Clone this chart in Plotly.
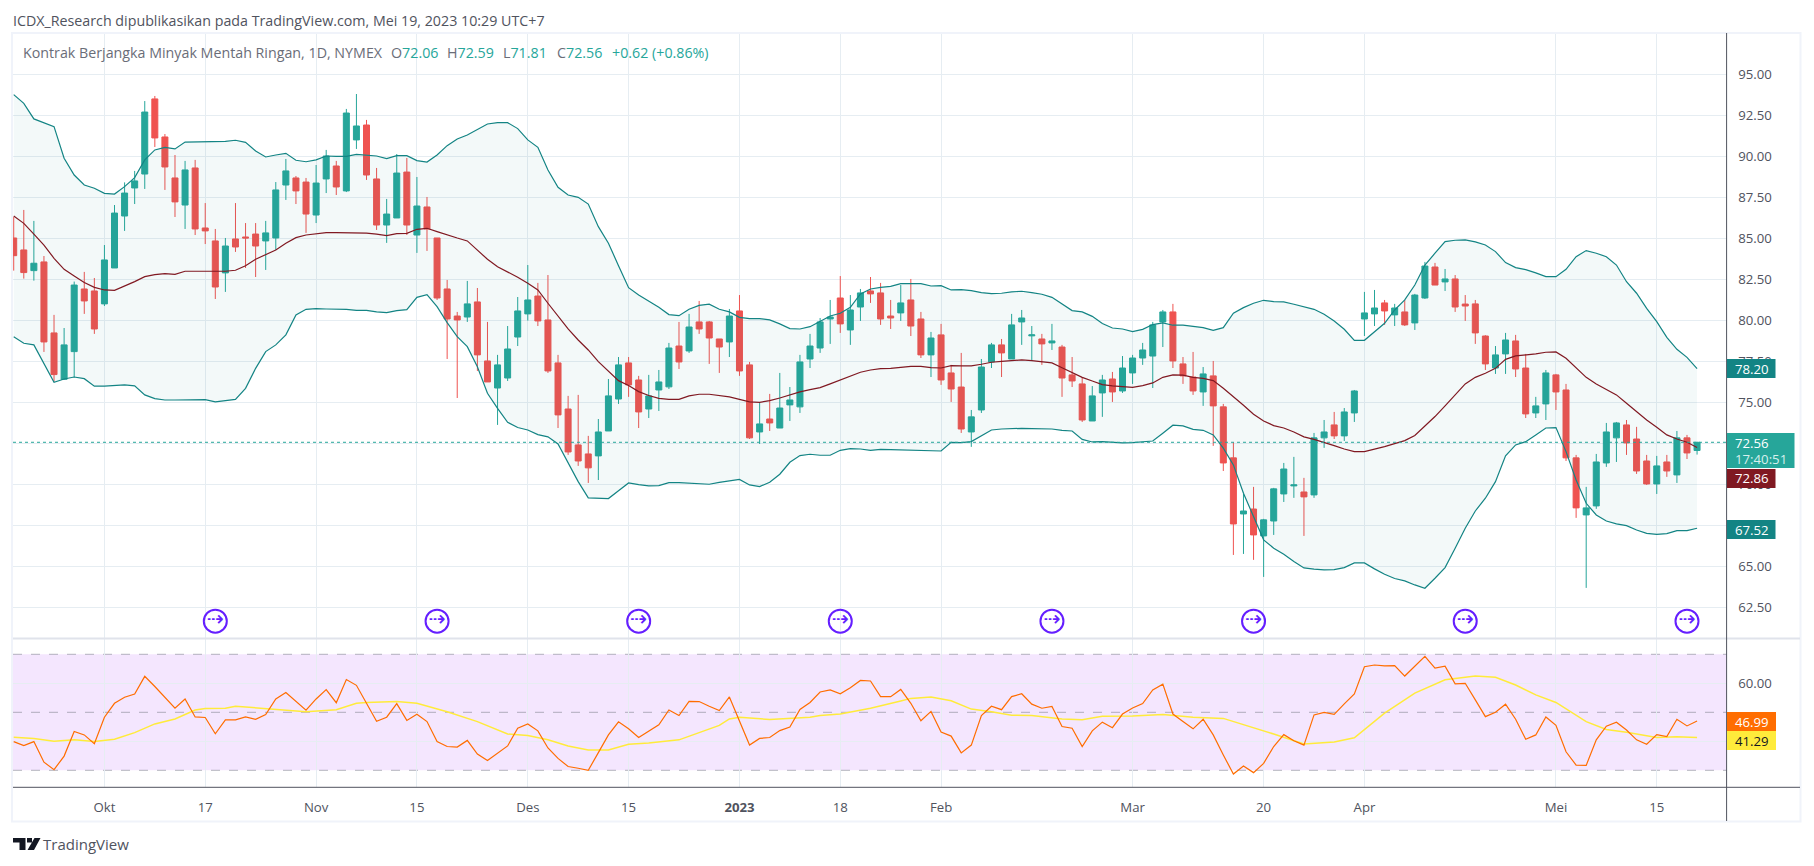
import plotly.graph_objects as go

W, H = 1814, 866

# bar index, 0 = 3 Oct 2022, last bar = 19 May 2023
bars = list(range(-9, 159))

opens = [85.02, 84.29, 83.03, 83.56, 79.23, 76.40, 78.09, 81.91, 81.79,
         81.00, 83.19, 86.36, 88.07, 88.92, 93.50, 91.18, 88.68, 87.03, 89.29,
         85.63, 84.84, 82.89, 84.96, 85.08, 85.26, 84.84, 85.02, 88.25, 88.68,
         88.43, 86.42, 88.62, 89.41, 87.89, 91.00, 91.91, 88.62, 85.81, 86.24,
         89.04, 85.20, 86.91, 85.02, 81.91, 80.26, 80.20, 81.12, 77.52, 75.87,
         76.48, 78.98, 80.39, 81.48, 80.02, 77.40, 74.59, 72.40, 71.85, 71.73,
         73.25, 75.20, 77.40, 76.36, 74.59, 75.75, 75.94, 78.43, 78.13, 79.90,
         79.90, 78.86, 78.68, 80.57, 77.28, 73.19, 73.98, 73.43, 74.84, 74.72,
         77.64, 78.31, 80.08, 81.36, 79.41, 80.81, 81.79, 81.67, 80.26, 80.45,
         81.24, 80.08, 77.89, 79.11, 76.79, 75.93, 73.19, 74.53, 77.46, 78.50,
         77.64, 79.90, 79.05, 78.86, 78.62, 78.37, 76.67, 76.12, 73.86, 75.57,
         76.42, 75.69, 76.79, 77.70, 77.82, 79.90, 80.51, 77.34, 76.54, 75.63,
         76.61, 74.72, 71.61, 68.19, 68.49, 66.85, 67.76, 69.41, 69.90, 69.53,
         69.35, 72.83, 73.62, 72.95, 74.35, 80.08, 80.39, 81.06, 80.33, 80.51,
         79.84, 81.36, 83.25, 82.34, 82.52, 80.99, 81.00, 79.04, 77.09, 77.95,
         78.74, 77.09, 74.35, 74.90, 76.67, 75.75, 71.61, 68.13, 68.68, 71.30,
         72.83, 73.62, 72.76, 71.42, 70.02, 71.36, 70.57, 72.83, 72.06]
highs = [86.30, 86.73, 86.06, 83.92, 80.33, 79.53, 82.36, 82.95, 82.58,
         84.59, 87.03, 88.41, 89.11, 93.37, 93.68, 91.36, 90.08, 89.72, 89.78,
         87.15, 85.57, 85.02, 87.15, 85.93, 85.93, 86.06, 88.43, 89.84, 88.80,
         88.68, 89.47, 90.39, 89.72, 92.89, 93.80, 92.22, 89.29, 87.40, 90.14,
         89.90, 88.74, 87.52, 85.02, 82.46, 80.51, 82.40, 81.97, 79.90, 77.89,
         79.65, 81.42, 83.37, 82.28, 82.76, 77.89, 75.39, 75.45, 72.95, 73.98,
         76.42, 77.76, 77.76, 76.61, 76.67, 76.97, 78.62, 79.90, 80.39, 81.18,
         79.96, 78.86, 80.69, 81.54, 77.46, 74.96, 75.51, 76.79, 75.93, 77.89,
         79.17, 80.14, 81.24, 82.70, 81.54, 81.91, 82.64, 82.28, 81.24, 82.15,
         82.52, 80.51, 79.29, 79.78, 77.28, 78.01, 74.53, 77.64, 78.62, 78.86,
         80.39, 80.63, 79.65, 79.17, 79.78, 78.50, 77.76, 76.54, 75.99, 76.67,
         76.85, 77.82, 77.89, 78.62, 79.90, 80.63, 81.00, 77.76, 78.07, 77.15,
         77.52, 74.90, 72.56, 69.41, 69.84, 67.89, 69.78, 71.30, 71.67, 70.39,
         73.13, 73.92, 74.41, 74.65, 75.75, 81.73, 81.85, 81.24, 81.00, 81.24,
         81.61, 83.56, 83.50, 83.13, 82.76, 81.54, 81.24, 79.09, 78.43, 79.23,
         79.11, 77.95, 75.33, 76.97, 76.73, 76.12, 71.79, 69.84, 71.85, 73.74,
         73.80, 73.92, 73.50, 71.79, 71.73, 71.79, 73.25, 73.01, 72.59]
lows = [83.03, 82.54, 82.42, 78.07, 76.26, 76.36, 76.52, 80.39, 79.17,
        80.87, 83.19, 85.45, 87.09, 88.01, 90.57, 87.95, 86.30, 85.57, 85.20,
        84.65, 81.30, 81.73, 84.17, 83.19, 82.64, 83.07, 84.29, 87.34, 87.09,
        85.33, 85.93, 87.76, 87.64, 87.82, 90.45, 88.56, 85.51, 84.72, 86.24,
        85.20, 84.11, 84.23, 81.24, 77.64, 75.26, 79.90, 76.91, 76.24, 73.62,
        76.30, 78.43, 79.98, 79.65, 76.79, 73.43, 71.79, 71.12, 70.08, 70.26,
        73.25, 74.90, 75.33, 73.43, 74.04, 74.47, 75.81, 77.03, 78.01, 79.17,
        77.34, 76.79, 77.76, 76.61, 72.76, 72.46, 73.25, 73.43, 73.86, 74.35,
        77.09, 78.01, 78.56, 79.23, 78.50, 79.96, 81.06, 79.72, 79.47, 79.96,
        79.04, 77.70, 76.54, 76.06, 75.02, 73.13, 72.28, 74.35, 77.09, 76.54,
        77.64, 78.50, 77.52, 77.28, 78.19, 75.33, 75.93, 73.80, 73.86, 74.11,
        75.02, 75.57, 76.12, 77.28, 75.87, 78.37, 77.09, 76.12, 75.45, 74.78,
        72.34, 70.81, 65.69, 65.75, 65.39, 64.35, 66.91, 68.92, 69.17, 66.85,
        69.17, 72.22, 72.76, 72.64, 73.80, 79.04, 79.65, 79.72, 79.65, 79.65,
        79.41, 81.30, 82.15, 81.79, 80.51, 79.96, 78.56, 76.97, 76.73, 76.73,
        76.54, 74.04, 74.04, 73.92, 74.53, 71.42, 67.95, 63.68, 68.50, 71.06,
        71.36, 71.79, 70.63, 69.96, 69.41, 70.45, 70.08, 71.54, 71.81]
closes = [83.94, 82.91, 83.48, 78.68, 76.69, 78.50, 82.15, 81.18, 79.47,
          83.68, 86.54, 87.76, 88.50, 92.70, 91.12, 89.35, 87.22, 89.17, 85.57,
          85.45, 82.03, 84.53, 84.47, 85.02, 84.53, 85.33, 87.95, 89.11, 87.89,
          86.48, 88.37, 90.02, 88.13, 92.64, 91.85, 88.86, 85.81, 86.48, 88.98,
          85.81, 86.97, 85.57, 81.36, 80.08, 80.02, 81.00, 77.89, 76.24, 77.28,
          78.25, 80.57, 81.24, 79.96, 76.91, 74.23, 71.97, 71.42, 71.00, 73.19,
          75.39, 77.28, 76.06, 74.41, 75.39, 76.24, 78.31, 77.46, 79.59, 79.47,
          78.92, 78.37, 80.26, 76.91, 72.83, 73.68, 73.74, 74.65, 75.14, 77.46,
          78.43, 79.90, 80.20, 79.78, 80.63, 81.67, 81.61, 80.08, 80.14, 81.06,
          79.65, 77.89, 78.92, 76.36, 75.81, 73.37, 74.11, 77.15, 78.50, 78.01,
          79.72, 80.14, 79.11, 78.56, 78.74, 76.48, 76.30, 73.92, 75.39, 76.36,
          75.63, 77.09, 77.70, 78.19, 79.72, 80.51, 77.52, 76.61, 75.69, 76.73,
          74.78, 71.30, 67.58, 68.37, 66.91, 67.83, 69.72, 70.93, 69.96, 69.23,
          72.83, 73.19, 72.95, 74.41, 75.69, 80.45, 80.75, 80.57, 80.75, 79.72,
          81.54, 83.31, 82.15, 82.52, 80.81, 80.87, 79.23, 77.34, 77.89, 78.80,
          77.03, 74.29, 74.78, 76.79, 75.63, 71.61, 68.56, 68.56, 71.36, 73.19,
          73.74, 72.52, 70.81, 70.02, 71.12, 70.81, 72.83, 71.91, 72.56]

bb_upper = [93.76, 93.23, 92.28, 92.05, 91.81, 89.88, 88.86, 88.25, 88.05,
            87.74, 87.70, 88.15, 88.70, 89.78, 90.39, 90.55, 90.45, 90.87, 90.89,
            90.91, 90.91, 90.91, 90.98, 90.85, 90.33, 89.96, 90.08, 90.18, 89.76,
            89.67, 89.78, 90.02, 90.00, 90.00, 90.12, 90.08, 90.02, 89.86, 90.04,
            90.04, 89.74, 89.65, 90.08, 90.65, 91.06, 91.30, 91.65, 91.97, 92.06,
            92.05, 91.69, 91.00, 90.55, 89.17, 88.11, 87.64, 87.50, 87.09, 85.71,
            84.70, 83.33, 81.99, 81.54, 81.18, 80.79, 80.35, 80.28, 80.67, 80.91,
            80.98, 80.67, 80.51, 80.18, 80.10, 80.10, 80.02, 79.78, 79.49, 79.47,
            79.61, 79.96, 80.26, 80.43, 80.79, 81.61, 81.91, 82.01, 82.07, 82.24,
            82.26, 82.24, 82.09, 82.11, 81.85, 81.87, 81.81, 81.69, 81.63, 81.65,
            81.73, 81.77, 81.69, 81.59, 81.40, 81.00, 80.59, 80.51, 80.24, 79.80,
            79.53, 79.47, 79.31, 79.45, 79.74, 79.84, 79.70, 79.70, 79.63, 79.55,
            79.39, 79.55, 80.43, 80.77, 81.04, 81.22, 81.14, 81.12, 80.98, 80.81,
            80.67, 80.37, 79.96, 79.45, 78.78, 78.78, 79.31, 79.82, 80.63, 81.24,
            82.15, 83.37, 84.09, 84.80, 84.88, 84.90, 84.78, 84.59, 84.19, 83.52,
            83.21, 83.09, 82.89, 82.66, 82.66, 83.11, 83.88, 84.25, 84.09, 83.88,
            83.37, 82.35, 81.65, 80.73, 79.92, 78.96, 78.23, 77.74, 77.05]
bb_basis = [86.36, 85.91, 85.26, 84.59, 83.78, 83.11, 82.70, 82.30, 82.01,
            81.85, 81.83, 82.09, 82.36, 82.66, 82.78, 82.85, 82.80, 82.99, 83.00,
            83.01, 83.00, 82.99, 83.05, 83.33, 83.72, 84.02, 84.29, 84.70, 85.04,
            85.20, 85.26, 85.35, 85.35, 85.35, 85.35, 85.32, 85.26, 85.16, 85.28,
            85.30, 85.55, 85.61, 85.41, 85.20, 85.02, 84.84, 84.31, 83.72, 83.27,
            82.97, 82.62, 82.26, 81.85, 81.04, 80.22, 79.47, 78.80, 78.19, 77.48,
            76.87, 76.32, 76.02, 75.65, 75.41, 75.24, 75.18, 75.18, 75.39, 75.49,
            75.49, 75.39, 75.33, 75.18, 75.02, 75.00, 75.10, 75.26, 75.45, 75.63,
            75.77, 75.89, 76.12, 76.36, 76.61, 76.83, 76.97, 77.05, 77.07, 77.15,
            77.19, 77.19, 77.11, 77.09, 77.24, 77.22, 77.22, 77.32, 77.44, 77.50,
            77.56, 77.58, 77.54, 77.48, 77.40, 77.11, 76.81, 76.52, 76.30, 76.08,
            76.00, 75.96, 75.91, 76.02, 76.18, 76.52, 76.67, 76.65, 76.52, 76.46,
            76.32, 75.85, 75.35, 74.82, 74.27, 73.86, 73.58, 73.43, 73.19, 72.89,
            72.74, 72.56, 72.36, 72.15, 71.99, 71.99, 72.13, 72.30, 72.48, 72.66,
            72.97, 73.52, 74.13, 74.78, 75.45, 76.12, 76.52, 76.77, 77.07, 77.62,
            77.83, 77.87, 77.95, 78.05, 78.07, 77.68, 77.07, 76.52, 76.12, 75.81,
            75.45, 74.94, 74.43, 73.92, 73.48, 73.01, 72.76, 72.56, 72.24]
bb_lower = [79.00, 78.60, 78.50, 77.38, 76.22, 76.42, 76.54, 76.44, 75.98,
            75.98, 76.00, 76.06, 76.00, 75.45, 75.22, 75.14, 75.14, 75.14, 75.15,
            75.16, 75.02, 75.12, 75.18, 75.85, 77.07, 78.09, 78.50, 79.11, 80.33,
            80.67, 80.71, 80.69, 80.68, 80.67, 80.61, 80.61, 80.51, 80.47, 80.59,
            80.65, 81.40, 81.56, 80.83, 79.86, 79.00, 78.39, 77.17, 75.55, 74.63,
            73.78, 73.46, 73.31, 73.03, 72.89, 72.46, 71.28, 70.16, 69.17, 69.13,
            69.13, 69.61, 70.08, 69.98, 69.90, 69.92, 70.10, 70.10, 70.06, 70.02,
            70.00, 70.12, 70.22, 70.30, 69.96, 69.86, 70.12, 70.61, 71.34, 71.75,
            71.83, 71.77, 71.77, 72.07, 72.17, 72.15, 72.07, 72.13, 72.11, 72.09,
            72.09, 72.07, 72.07, 72.03, 72.56, 72.54, 72.60, 72.95, 73.31, 73.37,
            73.41, 73.41, 73.39, 73.37, 73.37, 73.29, 73.25, 72.74, 72.58, 72.60,
            72.54, 72.52, 72.54, 72.60, 72.64, 73.11, 73.60, 73.56, 73.35, 73.29,
            73.01, 72.20, 71.18, 69.45, 68.03, 66.61, 66.10, 65.73, 65.29, 64.90,
            64.82, 64.78, 64.80, 64.92, 65.20, 65.20, 64.84, 64.51, 64.25, 64.11,
            63.86, 63.66, 64.27, 64.92, 66.10, 67.32, 68.37, 69.15, 70.16, 71.73,
            72.40, 72.60, 73.01, 73.43, 73.46, 71.99, 70.26, 68.84, 68.13, 67.76,
            67.58, 67.48, 67.21, 67.01, 66.95, 66.99, 67.17, 67.17, 67.32]

rsi = [39.9, 38.5, 39.9, 32.8, 30.2, 34.9, 43.4, 42.2, 39.2,
       48.3, 53.1, 55.2, 56.3, 62.4, 58.9, 55.2, 51.4, 54.6, 48.4,
       48.2, 42.6, 47.4, 47.4, 48.4, 47.6, 49.2, 54.6, 56.8, 53.8,
       50.7, 54.6, 57.8, 53.3, 61.3, 59.3, 53.1, 46.9, 48.3, 53.0,
       47.2, 49.3, 46.8, 39.9, 38.2, 38.0, 40.3, 35.6, 33.4, 35.9,
       38.4, 44.5, 46.0, 43.6, 37.7, 34.1, 31.3, 30.7, 30.0, 36.1,
       42.2, 46.7, 44.3, 41.3, 43.6, 45.7, 50.8, 48.9, 53.8, 53.7,
       52.1, 50.6, 55.3, 46.8, 38.7, 41.0, 41.3, 43.7, 44.9, 51.0,
       53.4, 57.0, 57.7, 56.4, 58.5, 61.0, 60.8, 55.4, 55.4, 57.9,
       53.1, 47.1, 50.3, 43.2, 41.8, 36.0, 38.7, 48.9, 52.1, 50.9,
       55.4, 56.4, 52.8, 51.4, 52.0, 45.1, 44.5, 38.2, 43.6, 46.6,
       44.7, 49.4, 51.5, 53.0, 57.7, 59.7, 49.4, 46.8, 44.3, 47.6,
       42.2, 35.3, 28.7, 31.5, 29.2, 32.4, 38.2, 42.3, 40.2, 38.7,
       49.1, 50.0, 49.3, 52.9, 56.3, 65.7, 66.3, 66.0, 66.1, 62.5,
       66.0, 69.3, 65.2, 65.9, 59.8, 60.0, 54.3, 48.5, 50.0, 52.8,
       47.6, 40.7, 42.2, 48.4, 45.5, 36.4, 31.8, 31.7, 40.5, 45.2,
       46.6, 43.9, 40.5, 39.0, 42.3, 41.6, 47.6, 45.3, 46.99]

# the RSI average is smooth, read at its bends only
rsi_ma_bars = [-9, -7, -5, -3, -1, 1, 3, 5, 7, 9, 10, 12, 13, 15, 17, 20, 23, 25, 26, 29,
               31, 34, 37, 40, 42, 44, 46, 48, 50, 52, 54, 57, 61, 62, 63, 66, 70, 71, 73, 76,
               79, 80, 82, 84, 86, 88, 90, 92, 95, 97, 99, 102, 105, 108, 111, 114, 116, 119,
               122, 124, 127, 130, 133, 136, 138, 140, 142, 144, 147, 149, 151, 154, 156, 158]
rsi_ma = [41.4, 41.0, 40.0, 40.5, 39.9, 40.7, 43.0, 46.0, 47.7, 50.8, 51.3, 51.4, 52.1, 51.6, 51.0, 50.2, 50.9, 53.1, 53.4, 53.7,
          53.1, 50.2, 46.8, 42.5, 42.0, 40.5, 38.4, 37.0, 37.0, 39.0, 39.4, 40.5, 45.5, 47.7, 48.3, 47.5, 48.3, 48.9, 49.4, 51.4,
          53.9, 54.8, 55.3, 54.0, 51.1, 50.2, 49.0, 48.9, 47.7, 47.4, 48.6, 48.7, 49.2, 48.3, 47.9, 44.8, 42.5, 39.1,
          39.8, 41.2, 49.7, 56.6, 61.2, 62.5, 62.1, 59.4, 56.0, 53.4, 46.8, 44.1, 43.1, 41.3, 41.6, 41.29]

tick_bars = [0, 10, 21, 31, 42, 52, 63, 73, 83, 102, 115, 125, 144, 154]
tick_text = ["Okt", "17", "Nov", "15", "Des", "15", "<b>2023</b>", "18", "Feb", "Mar", "20", "Apr", "Mei", "15"]
price_ticks = [62.5, 65, 67.5, 70, 72.5, 75, 77.5, 80, 82.5, 85, 87.5, 90, 92.5, 95]
# these sit fully behind a price label in the reference, only the grid line shows
hidden_ticks = [67.5, 72.5, 40]
rsi_ticks = [40, 60]
event_bars = [11, 33, 53, 73, 94, 114, 135, 157]

GREEN = "#26a69a"
RED = "#ef5350"
TEAL = "#138484"
MAROON = "#801922"
GRID = "#e6edf2"
TEXT = "#50535e"
FONT = "Open Sans"


def px(x):
    return x / W


def py(y):
    return 1 - y / H


def tick_labels(values):
    return ["" if v in hidden_ticks else "%.2f" % v for v in values]


fig = go.Figure()
fig.add_trace(go.Candlestick(x=bars, open=opens, high=highs, low=lows, close=closes,
                             increasing=dict(line=dict(color=GREEN, width=1), fillcolor=GREEN),
                             decreasing=dict(line=dict(color=RED, width=1), fillcolor=RED),
                             whiskerwidth=0, xaxis="x", yaxis="y"))
# band fill, upper edge then lower edge backwards
fig.add_trace(go.Scatter(x=bars + bars[::-1], y=bb_upper + bb_lower[::-1], mode="lines",
                         fill="toself", fillcolor="rgba(19,132,132,0.05)", line=dict(width=0)))
fig.add_trace(go.Scatter(x=bars, y=bb_upper, mode="lines", line=dict(color=TEAL, width=1.2)))
fig.add_trace(go.Scatter(x=bars, y=bb_lower, mode="lines", line=dict(color=TEAL, width=1.2)))
fig.add_trace(go.Scatter(x=bars, y=bb_basis, mode="lines", line=dict(color=MAROON, width=1.2)))
fig.add_trace(go.Scatter(x=event_bars, y=[61.65] * len(event_bars), mode="markers+text",
                         marker=dict(symbol="circle-open", size=23, color="#651fff", line=dict(width=2, color="#651fff")),
                         text=["⇢"] * len(event_bars), textposition="middle center",
                         textfont=dict(family="DejaVu Sans", size=21, color="#651fff")))
fig.add_trace(go.Scatter(x=rsi_ma_bars, y=rsi_ma, mode="lines", line=dict(color="#ffeb3b", width=1.5),
                         xaxis="x2", yaxis="y2"))
fig.add_trace(go.Scatter(x=bars, y=rsi, mode="lines", line=dict(color="#ff6d00", width=1.2),
                         xaxis="x2", yaxis="y2"))

x_dom = [px(13), px(1726.6)]
x_range = [-9.07, 160.93]
fig.update_layout(
    width=W, height=H, margin=dict(l=0, r=0, t=0, b=0), autosize=False,
    paper_bgcolor="white", plot_bgcolor="white", showlegend=False, boxgap=0.3, boxgroupgap=0.15,
    font=dict(family=FONT, color=TEXT, size=13),
    xaxis=dict(domain=x_dom, range=x_range, anchor="y", tickvals=tick_bars, showticklabels=False,
               gridcolor=GRID, zeroline=False, rangeslider=dict(visible=False), ticks=""),
    xaxis2=dict(domain=x_dom, range=x_range, anchor="y2", matches="x", tickvals=tick_bars, ticktext=tick_text,
                gridcolor=GRID, zeroline=False, ticks="outside", ticklen=8, tickcolor="rgba(0,0,0,0)",
                tickfont=dict(size=13.2, color=TEXT)),
    yaxis=dict(domain=[py(638.4), py(33.5)], range=[60.6, 97.49], side="right", anchor="x",
               tickvals=price_ticks, ticktext=tick_labels(price_ticks), gridcolor=GRID, zeroline=False,
               ticks="outside", ticklen=8, tickcolor="rgba(0,0,0,0)", tickfont=dict(size=13.2, color=TEXT)),
    yaxis2=dict(domain=[py(787.3), py(638.4)], range=[24.14, 75.48], side="right", anchor="x2",
                tickvals=rsi_ticks, ticktext=tick_labels(rsi_ticks), gridcolor=GRID, zeroline=False,
                ticks="outside", ticklen=8, tickcolor="rgba(0,0,0,0)", tickfont=dict(size=13.2, color=TEXT)),
)

# rsi band
fig.add_shape(type="rect", xref="x2 domain", yref="y2", x0=0, x1=1, y0=30, y1=70, layer="below",
              fillcolor="rgba(163,47,247,0.12)", line_width=0)
for level in [30, 50, 70]:
    fig.add_shape(type="line", xref="x2 domain", yref="y2", x0=0, x1=1, y0=level, y1=level, layer="below",
                  line=dict(color="rgba(120,123,134,0.55)", width=1, dash="dash"))
fig.add_shape(type="line", xref="x domain", yref="y", x0=0, x1=1, y0=closes[-1], y1=closes[-1],
              line=dict(color=GREEN, width=1, dash="dot"))


def frame_line(x0, y0, x1, y1, color, width=1):
    fig.add_shape(type="line", xref="paper", yref="paper", x0=px(x0), x1=px(x1), y0=py(y0), y1=py(y1),
                  line=dict(color=color, width=width))


def label_box(x0, y0, x1, y1, color):
    fig.add_shape(type="rect", xref="paper", yref="paper", x0=px(x0), x1=px(x1), y0=py(y0), y1=py(y1),
                  fillcolor=color, line_width=0, layer="above")


def text_at(x, y, text, color=TEXT, size=13.2, anchor="left"):
    fig.add_annotation(xref="paper", yref="paper", x=px(x), y=py(y), text=text, showarrow=False,
                       xanchor=anchor, yanchor="middle", font=dict(family=FONT, size=size, color=color),
                       borderpad=0, borderwidth=0)


# outer frame and pane separators
fig.add_shape(type="rect", xref="paper", yref="paper", x0=px(12), x1=px(1800.5), y0=py(33), y1=py(821.5),
              line=dict(color="#f0f3fa", width=2))
frame_line(13, 638.4, 1800, 638.4, "#e0e3eb", 2)
frame_line(13, 787.3, 1800, 787.3, "#50535e", 1)
frame_line(1726.6, 33, 1726.6, 821, "#50535e", 1)

# price labels on the axis
label_box(1727, 359, 1775.5, 378, TEAL)
text_at(1735, 368.5, "78.20", "white")
label_box(1727, 433, 1794.5, 468, GREEN)
text_at(1735, 442.5, "72.56", "white")
text_at(1735, 459, "17:40:51", "#d6f0ed")
label_box(1727, 469, 1775.5, 488, MAROON)
text_at(1735, 478.5, "72.86", "white")
label_box(1727, 520, 1775.5, 539, TEAL)
text_at(1735, 529.5, "67.52", "white")
label_box(1727, 712, 1776, 731, "#ff6d00")
text_at(1735, 721.5, "46.99", "white")
label_box(1727, 731, 1776, 750, "#ffeb3b")
text_at(1735, 740.5, "41.29", "#131722")

# header lines
text_at(13, 20, "ICDX_Research dipublikasikan pada TradingView.com, Mei 19, 2023 10:29 UTC+7", TEXT, 14.25)
text_at(23, 53, "Kontrak Berjangka Minyak Mentah Ringan, 1D, NYMEX", "#6a6d78", 14.25)
for x, letter, value in [(391, "O", "72.06"), (447, "H", "72.59"), (503, "L", "71.81"), (557, "C", "72.56")]:
    text_at(x, 53, f'{letter}<span style="color:{GREEN}">{value}</span>', "#6a6d78", 14.25)
text_at(612, 53, "+0.62 (+0.86%)", GREEN, 14.25)

# footer logo and name
fig.add_shape(type="path", xref="paper", yref="paper", fillcolor="#131722", line_width=0,
              path=" ".join([f"M {px(13)} {py(838)} L {px(25.5)} {py(838)} L {px(25.5)} {py(850)} L {px(19.5)} {py(850)} "
                             f"L {px(19.5)} {py(842.5)} L {px(13)} {py(842.5)} Z",
                             f"M {px(34.5)} {py(838)} L {px(40.5)} {py(838)} L {px(34)} {py(850)} L {px(27.5)} {py(850)} Z",
                             f"M {px(27)} {py(838)} L {px(32)} {py(838)} L {px(32)} {py(842.5)} L {px(27)} {py(842.5)} Z"]))
text_at(43, 844, "TradingView", TEXT, 15)

fig.write_html("out.html", config=dict(displayModeBar=False), post_script="document.body.style.margin='0';")
